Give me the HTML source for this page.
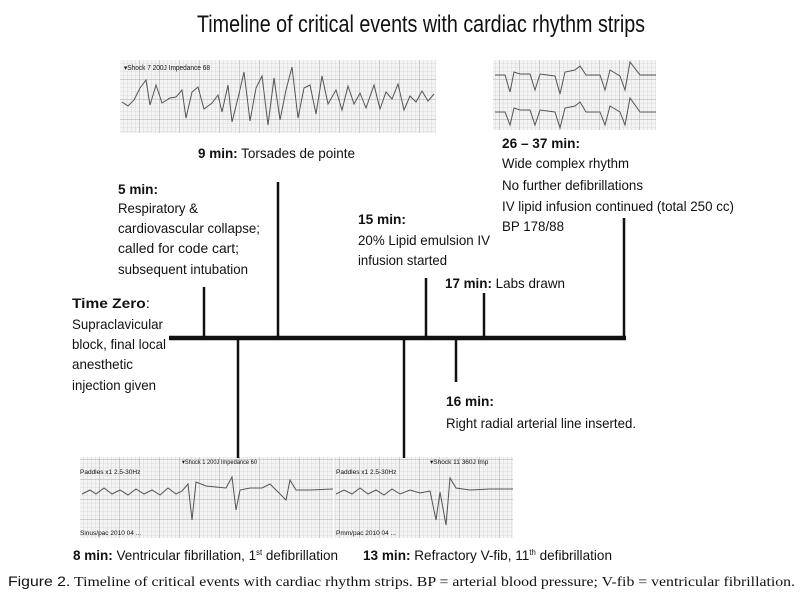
<!DOCTYPE html>
<html><head><meta charset="utf-8"><style>
html,body{margin:0;padding:0;background:#fff;}
svg{display:block;}
text{font-family:"Liberation Sans",Arial,sans-serif;fill:#111;}
.b{font-weight:bold;}
.c{font-family:"Liberation Serif",serif;}
</style></head><body>
<svg width="800" height="600" viewBox="0 0 800 600" xmlns="http://www.w3.org/2000/svg">
<defs>
<pattern id="g" width="4" height="4" patternUnits="userSpaceOnUse">
<rect width="4" height="4" fill="#f4f4f4"/>
<path d="M4 0V4M0 4H4" stroke="#c8c8c8" stroke-width="0.6"/>
</pattern>
<pattern id="G" width="20" height="20" patternUnits="userSpaceOnUse">
<rect width="20" height="20" fill="url(#g)"/>
<path d="M20 0V20M0 20H20" stroke="#999" stroke-width="0.8"/>
</pattern>
</defs>
<text x="197" y="32" font-size="24" textLength="448" lengthAdjust="spacingAndGlyphs">Timeline of critical events with cardiac rhythm strips</text>

<!-- strips -->
<rect x="120" y="60" width="316" height="73" fill="url(#G)"/>
<text x="124" y="70" font-size="7" textLength="86" lengthAdjust="spacingAndGlyphs">▾Shock 7 200J Impedance 68</text>
<polyline fill="none" stroke="#555" stroke-width="1" points="122,102 128,106 134,100 140,88 146,80 150,105 156,85 162,103 170,98 176,97 182,90 186,118 192,92 198,87 204,109 212,103 218,95 222,112 228,85 232,122 238,98 244,72 250,121 256,88 262,76 268,125 274,78 280,120 286,90 292,67 298,118 304,88 310,85 316,114 322,76 328,104 336,90 342,110 348,86 354,104 360,93 366,108 374,85 380,109 386,92 392,99 398,84 404,110 410,96 416,102 422,91 428,101 434,94"/>
<rect x="493" y="60" width="163" height="70" fill="url(#G)"/>
<polyline fill="none" stroke="#555" stroke-width="1" points="495,75 505,75 510,92 514,72 520,74 530,74 535,90 540,74 555,76 560,94 565,72 575,70 580,66 586,75 600,75 605,90 610,70 620,76 625,90 630,62 640,75 656,75"/>
<polyline fill="none" stroke="#555" stroke-width="1" points="495,112 505,112 510,125 514,108 520,110 530,110 535,125 540,110 555,112 560,128 565,108 575,106 580,102 586,112 600,112 605,125 610,106 620,112 625,125 630,98 640,112 656,112"/>
<rect x="80" y="457" width="253" height="81" fill="url(#G)"/>
<text x="182" y="464" font-size="6.5" textLength="75" lengthAdjust="spacingAndGlyphs">▾Shock 1 200J Impedance 60</text>
<text x="80" y="474" font-size="6.5">Paddles x1 2.5-30Hz</text>
<text x="80" y="535" font-size="6.5">Sinus/pac    2010 04 ...</text>
<polyline fill="none" stroke="#555" stroke-width="1" points="82,494 90,490 96,494 104,488 112,494 120,490 128,495 136,489 144,494 152,490 160,495 168,488 176,494 182,491 188,484 192,520 196,482 206,486 216,487 226,488 232,477 236,510 240,490 250,488 262,488 270,484 286,500 290,480 296,490 310,490 333,489"/>
<rect x="334" y="457" width="179" height="81" fill="url(#G)"/>
<text x="430" y="464" font-size="6.5">▾Shock 11 360J Imp</text>
<text x="336" y="474" font-size="6.5">Paddles x1 2.5-30Hz</text>
<text x="336" y="535" font-size="6.5">Pmm/pac   2010 04 ...</text>
<polyline fill="none" stroke="#555" stroke-width="1" points="336,494 344,490 352,494 360,488 368,494 376,490 384,495 392,489 400,494 410,490 420,493 430,491 436,520 440,492 446,525 450,478 456,488 470,490 490,489 513,489"/>

<!-- timeline -->
<g stroke="#111" fill="none">
<line x1="169" y1="338" x2="626" y2="338" stroke-width="4.5"/>
<line x1="204" y1="287" x2="204" y2="337" stroke-width="2.5"/>
<line x1="278" y1="182" x2="278" y2="337" stroke-width="2.5"/>
<line x1="426" y1="278" x2="426" y2="337" stroke-width="2.5"/>
<line x1="484" y1="293" x2="484" y2="337" stroke-width="2.5"/>
<line x1="624" y1="218" x2="624" y2="338" stroke-width="2.5"/>
<line x1="238" y1="338" x2="238" y2="458" stroke-width="2.5"/>
<line x1="404" y1="338" x2="404" y2="458" stroke-width="2.5"/>
<line x1="456" y1="338" x2="456" y2="382" stroke-width="2.5"/>
</g>

<g font-size="14">
<text x="198" y="158" textLength="157" lengthAdjust="spacingAndGlyphs"><tspan class="b">9 min:</tspan> Torsades de pointe</text>
<text x="118" y="194" class="b" textLength="40" lengthAdjust="spacingAndGlyphs">5 min:</text>
<text x="118" y="213" textLength="80" lengthAdjust="spacingAndGlyphs">Respiratory &amp;</text>
<text x="118" y="233" textLength="142" lengthAdjust="spacingAndGlyphs">cardiovascular collapse;</text>
<text x="118" y="253" textLength="121" lengthAdjust="spacingAndGlyphs">called for code cart;</text>
<text x="118" y="274" textLength="130" lengthAdjust="spacingAndGlyphs">subsequent intubation</text>
<text x="358" y="224" class="b" textLength="48" lengthAdjust="spacingAndGlyphs">15 min:</text>
<text x="358" y="245" textLength="132" lengthAdjust="spacingAndGlyphs">20% Lipid emulsion IV</text>
<text x="358" y="265" textLength="89" lengthAdjust="spacingAndGlyphs">infusion started</text>
<text x="445" y="288" textLength="120" lengthAdjust="spacingAndGlyphs"><tspan class="b">17 min:</tspan> Labs drawn</text>
<text x="502" y="148" class="b" textLength="78" lengthAdjust="spacingAndGlyphs">26 – 37 min:</text>
<text x="502" y="168" textLength="127" lengthAdjust="spacingAndGlyphs">Wide complex rhythm</text>
<text x="502" y="190" textLength="141" lengthAdjust="spacingAndGlyphs">No further defibrillations</text>
<text x="502" y="211" textLength="232" lengthAdjust="spacingAndGlyphs">IV lipid infusion continued (total 250 cc)</text>
<text x="502" y="231" textLength="62" lengthAdjust="spacingAndGlyphs">BP 178/88</text>
<text x="72" y="308" textLength="78" lengthAdjust="spacingAndGlyphs"><tspan class="b">Time Zero</tspan>:</text>
<text x="72" y="329" textLength="91" lengthAdjust="spacingAndGlyphs">Supraclavicular</text>
<text x="72" y="349" textLength="94" lengthAdjust="spacingAndGlyphs">block, final local</text>
<text x="72" y="369" textLength="61" lengthAdjust="spacingAndGlyphs">anesthetic</text>
<text x="72" y="390" textLength="84" lengthAdjust="spacingAndGlyphs">injection given</text>
<text x="446" y="406" class="b" textLength="48" lengthAdjust="spacingAndGlyphs">16 min:</text>
<text x="446" y="428" textLength="190" lengthAdjust="spacingAndGlyphs">Right radial arterial line inserted.</text>
<text x="73" y="560" font-size="14" textLength="265" lengthAdjust="spacingAndGlyphs"><tspan class="b">8 min:</tspan>  Ventricular fibrillation, 1<tspan font-size="8" dy="-5">st</tspan><tspan dy="5"> defibrillation</tspan></text>
<text x="363" y="560" font-size="14" textLength="249" lengthAdjust="spacingAndGlyphs"><tspan class="b">13 min:</tspan> Refractory V-fib, 11<tspan font-size="8" dy="-5">th</tspan><tspan dy="5"> defibrillation</tspan></text>
</g>
<text x="8" y="586" font-size="14" class="c" textLength="787" lengthAdjust="spacingAndGlyphs"><tspan font-family="Liberation Sans">Figure 2.</tspan> Timeline of critical events with cardiac rhythm strips. BP = arterial blood pressure; V-fib = ventricular fibrillation.</text>
</svg>
</body></html>
